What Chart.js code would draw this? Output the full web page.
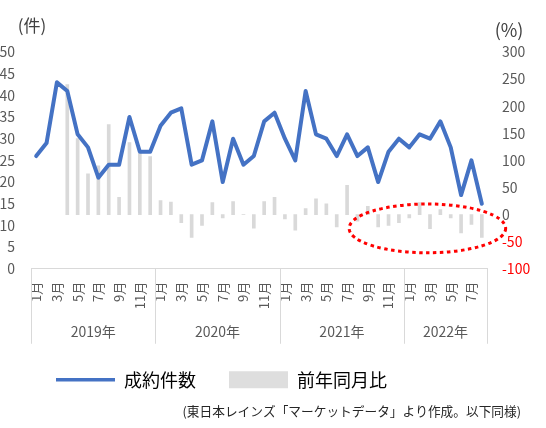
<!DOCTYPE html>
<html lang="ja">
<head>
<meta charset="utf-8">
<title>成約件数と前年同月比</title>
<script src="https://cdn.jsdelivr.net/npm/chart.js@4.4.1/dist/chart.umd.min.js"></script>
<style>
  html, body { margin: 0; padding: 0; background: #fff; }
  #wrap { width: 546px; height: 428px; }
</style>
</head>
<body>
<div id="wrap"><canvas id="chart"></canvas></div>
<script>
// ── データ ────────────────────────────────────────────
const categories = [
  '1月', '2月', '3月', '4月', '5月', '6月', '7月', '8月', '9月', '10月', '11月', '12月',
  '1月', '2月', '3月', '4月', '5月', '6月', '7月', '8月', '9月', '10月', '11月', '12月',
  '1月', '2月', '3月', '4月', '5月', '6月', '7月', '8月', '9月', '10月', '11月', '12月',
  '1月', '2月', '3月', '4月', '5月', '6月', '7月', '8月',
];
const years = ['2019年', '2020年', '2021年', '2022年'];
const yearMonths = [12, 12, 12, 8];

// 成約件数（件）
const contracts = [
  26, 29, 43, 41, 31, 28, 21, 24, 24, 35, 27, 27,
  33, 36, 37, 24, 25, 34, 20, 30, 24, 26, 34, 36,
  30, 25, 41, 31, 30, 26, 31, 26, 28, 20, 27, 30,
  28, 31, 30, 34, 28, 17, 25, 15,
];

// 前年同月比（%）
const yoyChange = [
  null, null, null, 240, 140, 75, 90, 166, 32, 133, 113, 107,
  26, 23, -15, -42, -20, 22, -6, 24, 0, -25, 24, 32,
  -8, -29, 11, 29, 20, -23, 54, -12, 15, -23, -20, -15,
  -6, 22, -26, 9, -6, -34, -18, -42,
];

const sourceNote = '(東日本レインズ「マーケットデータ」より作成。以下同様)';

Chart.defaults.font.family = "'Noto Sans CJK JP', 'Noto Sans', sans-serif";

// 凡例と出典の位置合わせ、年の区切り線・年ラベル・単位・赤い点線の楕円
const decorations = {
  id: 'decorations',
  afterLayout(chart) {
    if (chart.legend) chart.legend.left += 23;
    if (chart.titleBlock) chart.titleBlock.right -= 25;
  },
  afterDraw(chart) {
    const { ctx, chartArea, scales: { x, y1 } } = chart;
    ctx.save();

    const bounds = [0];
    yearMonths.forEach((n) => bounds.push(bounds[bounds.length - 1] + n));

    ctx.strokeStyle = '#d9d9d9';
    ctx.lineWidth = 1;
    bounds.forEach((i) => {
      const px = Math.round(x.getPixelForValue(i - 0.5)) + 0.5;
      ctx.beginPath();
      ctx.moveTo(px, x.top);
      ctx.lineTo(px, x.top + 75);
      ctx.stroke();
    });

    ctx.fillStyle = '#595959';
    ctx.font = "14px 'Noto Sans CJK JP', sans-serif";
    ctx.textAlign = 'center';
    ctx.textBaseline = 'middle';
    years.forEach((yr, k) => {
      const cx = (x.getPixelForValue(bounds[k] - 0.5) + x.getPixelForValue(bounds[k + 1] - 0.5)) / 2;
      ctx.fillText(yr, cx, x.top + 63);
    });

    ctx.fillStyle = '#404040';
    ctx.font = "17px 'Noto Sans CJK JP', sans-serif";
    ctx.fillText('(件)', chartArea.left + 1, chartArea.top - 26);
    ctx.font = "18px 'Noto Sans CJK JP', sans-serif";
    ctx.fillText('(%)', chartArea.right + 22, chartArea.top - 22);

    const x0 = x.getPixelForValue(30.2);
    const x1 = x.getPixelForValue(45.3);
    const yTop = y1.getPixelForValue(19.5);
    const yBot = y1.getPixelForValue(-70.5);
    ctx.strokeStyle = '#ff0000';
    ctx.lineWidth = 3;
    ctx.setLineDash([3.5, 3.5]);
    ctx.beginPath();
    ctx.ellipse((x0 + x1) / 2, (yTop + yBot) / 2, (x1 - x0) / 2, (yBot - yTop) / 2, 0, 0, Math.PI * 2);
    ctx.stroke();

    ctx.restore();
  },
};

new Chart(document.getElementById('chart'), {
  type: 'bar',
  data: {
    labels: categories,
    datasets: [
      {
        type: 'line',
        label: '成約件数',
        data: contracts,
        yAxisID: 'y',
        borderColor: '#4472C4',
        backgroundColor: '#4472C4',
        borderWidth: 4,
        borderJoinStyle: 'round',
        borderCapStyle: 'round',
        pointRadius: 0,
        tension: 0,
        order: 0,
      },
      {
        type: 'bar',
        label: '前年同月比',
        data: yoyChange,
        yAxisID: 'y1',
        backgroundColor: '#d9d9d9',
        barThickness: 3,
        order: 1,
      },
    ],
  },
  options: {
    responsive: true,
    maintainAspectRatio: false,
    animation: false,
    layout: { padding: { top: 52, left: 0, right: 0, bottom: 0 } },
    plugins: {
      tooltip: { enabled: false },
      legend: {
        position: 'bottom',
        align: 'start',
        labels: {
          usePointStyle: true,
          pointStyleWidth: 59,
          boxHeight: 17,
          padding: 33,
          color: '#404040',
          font: { size: 18 },
          generateLabels: () => [
            { text: '成約件数', pointStyle: 'line', strokeStyle: '#4472C4', fillStyle: '#4472C4', lineWidth: 3.5, hidden: false, datasetIndex: 0 },
            { text: '前年同月比', pointStyle: 'rect', strokeStyle: '#dedede', fillStyle: '#dedede', lineWidth: 0, hidden: false, datasetIndex: 1 },
          ],
        },
      },
      title: {
        display: true,
        text: sourceNote,
        position: 'bottom',
        align: 'end',
        color: '#262626',
        font: { size: 12.7, weight: 'normal' },
        padding: { top: 5, bottom: 9 },
      },
    },
    scales: {
      x: {
        grid: { display: false, drawTicks: false },
        border: { display: true, color: '#d9d9d9' },
        ticks: {
          autoSkip: false,
          minRotation: 90,
          maxRotation: 90,
          padding: 13,
          color: '#595959',
          font: { size: 13 },
          callback: (v, i) => (i % 2 === 0 ? categories[i] : ''),
        },
        afterFit: (s) => { s.height = 69; },
      },
      y: {
        position: 'left',
        min: 0,
        max: 50,
        grid: { display: false, drawTicks: false },
        border: { display: false },
        ticks: { stepSize: 5, padding: 16, color: '#595959', font: { size: 14 } },
        afterFit: (s) => { s.width = 31; },
      },
      y1: {
        position: 'right',
        min: -100,
        max: 300,
        grid: { display: false, drawTicks: false },
        border: { display: false },
        ticks: {
          stepSize: 50,
          padding: 15,
          font: { size: 14 },
          color: (c) => (c.tick.value < 0 ? '#ff0000' : '#595959'),
        },
        afterFit: (s) => { s.width = 59; },
      },
    },
  },
  plugins: [decorations],
});
</script>
</body>
</html>
